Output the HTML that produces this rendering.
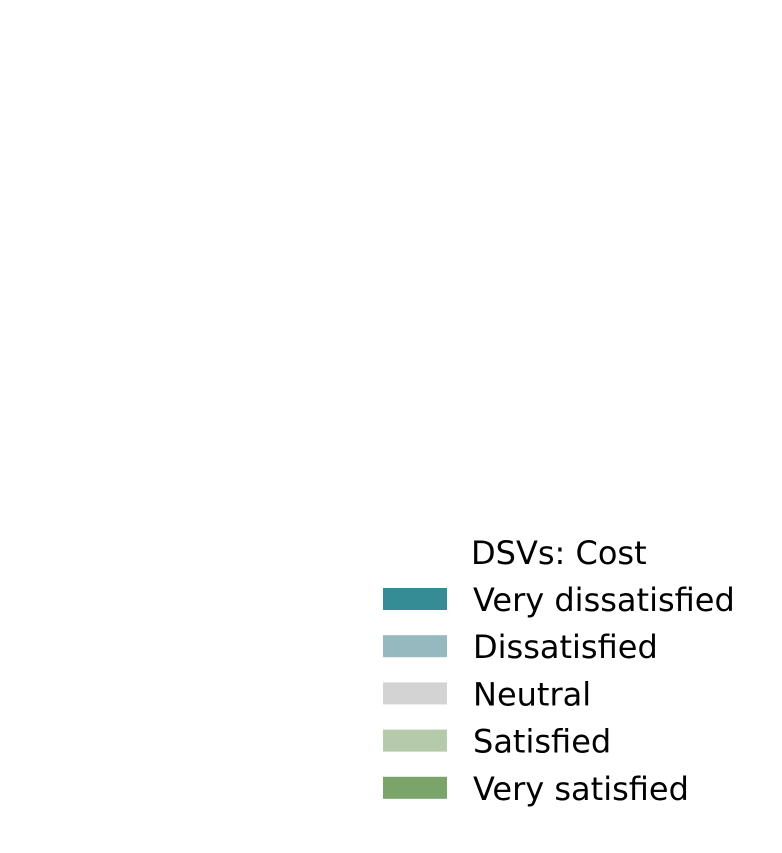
<!DOCTYPE html>
<html>
<head>
<meta charset="utf-8">
<style>
  html, body { margin: 0; padding: 0; background: #ffffff; }
  body { width: 782px; height: 853px; position: relative; overflow: hidden; }
  svg { position: absolute; left: 0; top: 0; }
  text { font-family: "DejaVu Sans", "Liberation Sans", sans-serif; font-size: 32px; fill: #000; }
</style>
</head>
<body>
<svg width="782" height="853">
  <g id="legend">
    <text x="471" y="564">DSVs: Cost</text>
  </g>
</svg>
<script>
const categories = ["Very dissatisfied", "Dissatisfied", "Neutral", "Satisfied", "Very satisfied"];
const seriesColors = ["#368c94", "#96b9c0", "#d3d3d3", "#b5c9ab", "#7ba46a"];

const legend = document.getElementById('legend');
const ns = 'http://www.w3.org/2000/svg';
categories.forEach((c, i) => {
  const cy = 599 + i * 47.2;
  const g = document.createElementNS(ns, 'g');
  
  
  const r = document.createElementNS(ns, 'rect');
  r.setAttribute('x', 383);
  r.setAttribute('y', cy - 11);
  r.setAttribute('width', 64);
  r.setAttribute('height', 22);
  r.setAttribute('fill', seriesColors[i]);
  
  
  const t = document.createElementNS(ns, 'text');
  t.setAttribute('x', 473);
  t.setAttribute('y', cy + 12);
  t.textContent = c;
  
  
  g.appendChild(r);
  g.appendChild(t);
  legend.appendChild(g);
});
</script>
</body>
</html>
